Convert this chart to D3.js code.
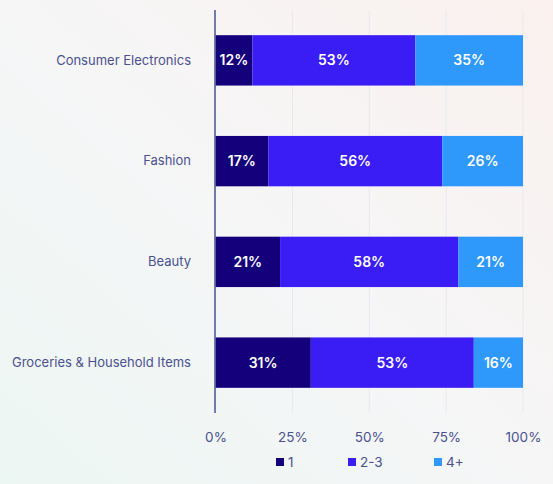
<!DOCTYPE html>
<html>
<head>
<meta charset="utf-8">
<script src="https://cdn.jsdelivr.net/npm/d3@7"></script>
<style>
    html, body { margin: 0; padding: 0; }
    body { width: 553px; height: 484px; overflow: hidden; font-family: Inter, "Noto Sans", sans-serif; }
</style>
</head>
<body>
<div id="chart"></div>
<script>
// Share of purchases by number of items, per category
const categories = ['Consumer Electronics', 'Fashion', 'Beauty', 'Groceries & Household Items'];
const seriesKeys = ['1', '2-3', '4+'];
const oneItem = [12, 17, 21, 31];
const twoToThree = [53, 56, 58, 53];
const fourPlus = [35, 26, 21, 16];
const tickValues = [0, 0.25, 0.5, 0.75, 1];
const tickLabels = ['0%', '25%', '50%', '75%', '100%'];

const colors = ['#13007a', '#3a1cf4', '#2e99fb'];
const textColor = '#4a5190';

const W = 553, H = 484;
const svg = d3.select('#chart').append('svg')
    .attr('width', W)
    .attr('height', H);

// Background wash
const defs = svg.append('defs');
const grad = defs.append('linearGradient')
    .attr('id', 'bg')
    .attr('x1', '100%').attr('y1', '0%')
    .attr('x2', '0%').attr('y2', '100%');
grad.append('stop').attr('offset', '0%').attr('stop-color', '#faf1ee');
grad.append('stop').attr('offset', '50%').attr('stop-color', '#f6f6f7');
grad.append('stop').attr('offset', '100%').attr('stop-color', '#ecf6f3');
svg.append('rect').attr('width', W).attr('height', H).attr('fill', 'url(#bg)');

const rows = categories.map((c, i) => ({
    category: c,
    '1': oneItem[i],
    '2-3': twoToThree[i],
    '4+': fourPlus[i]
}));

const stacked = d3.stack()
    .keys(seriesKeys)
    .offset(d3.stackOffsetExpand)(rows);

const x = d3.scaleLinear().domain([0, 1]).range([215.5, 523]);
const y = d3.scaleBand()
    .domain(categories)
    .range([10, 413])
    .paddingInner(0.5)
    .paddingOuter(0.25);

// Gridlines
svg.append('g')
    .selectAll('line')
    .data(tickValues.slice(1))
    .join('line')
    .attr('x1', d => x(d)).attr('x2', d => x(d))
    .attr('y1', 10).attr('y2', 413)
    .attr('stroke', '#e8e9ef')
    .attr('stroke-width', 1);

// Bars
const layer = svg.append('g')
    .selectAll('g')
    .data(stacked)
    .join('g')
    .attr('fill', (d, i) => colors[i]);

layer.selectAll('rect')
    .data(d => d)
    .join('rect')
    .attr('x', d => x(d[0]))
    .attr('y', d => y(d.data.category))
    .attr('width', d => x(d[1]) - x(d[0]))
    .attr('height', y.bandwidth());

// Segment labels
layer.each(function (s) {
    d3.select(this).selectAll('text')
        .data(s)
        .join('text')
        .attr('x', d => (x(d[0]) + x(d[1])) / 2)
        .attr('y', d => y(d.data.category) + y.bandwidth() / 2)
        .attr('dy', '0.36em')
        .attr('text-anchor', 'middle')
        .attr('fill', '#ffffff')
        .attr('font-size', 14)
        .attr('font-weight', 600)
        .text(d => d.data[s.key] + '%');
});

// Y axis
const yAxis = svg.append('g')
    .attr('transform', 'translate(215,0)')
    .call(d3.axisLeft(y).tickSize(0).tickPadding(24));
yAxis.select('.domain').attr('stroke', '#4a5190').attr('stroke-width', 1.5)
    .attr('d', 'M0,10V413');
yAxis.selectAll('text')
    .attr('fill', textColor)
    .attr('font-size', 13)
    .attr('font-family', 'Inter, "Noto Sans", sans-serif');

// X axis
const xAxis = svg.append('g')
    .attr('transform', 'translate(0,413)')
    .call(d3.axisBottom(x).tickValues(tickValues).tickFormat((d, i) => tickLabels[i]).tickSize(0).tickPadding(19));
xAxis.select('.domain').remove();
xAxis.selectAll('text')
    .attr('fill', textColor)
    .attr('font-size', 13.5)
    .attr('font-family', 'Inter, "Noto Sans", sans-serif');

// Legend
const legendX = [276, 348, 434];
const legend = svg.append('g')
    .selectAll('g')
    .data(seriesKeys)
    .join('g')
    .attr('transform', (d, i) => `translate(${legendX[i]},458)`);
legend.append('rect')
    .attr('width', 8).attr('height', 8)
    .attr('fill', (d, i) => colors[i]);
legend.append('text')
    .attr('x', 12).attr('y', 4)
    .attr('dy', '0.36em')
    .attr('fill', textColor)
    .attr('font-size', 13.5)
    .text(d => d);
</script>
</body>
</html>
